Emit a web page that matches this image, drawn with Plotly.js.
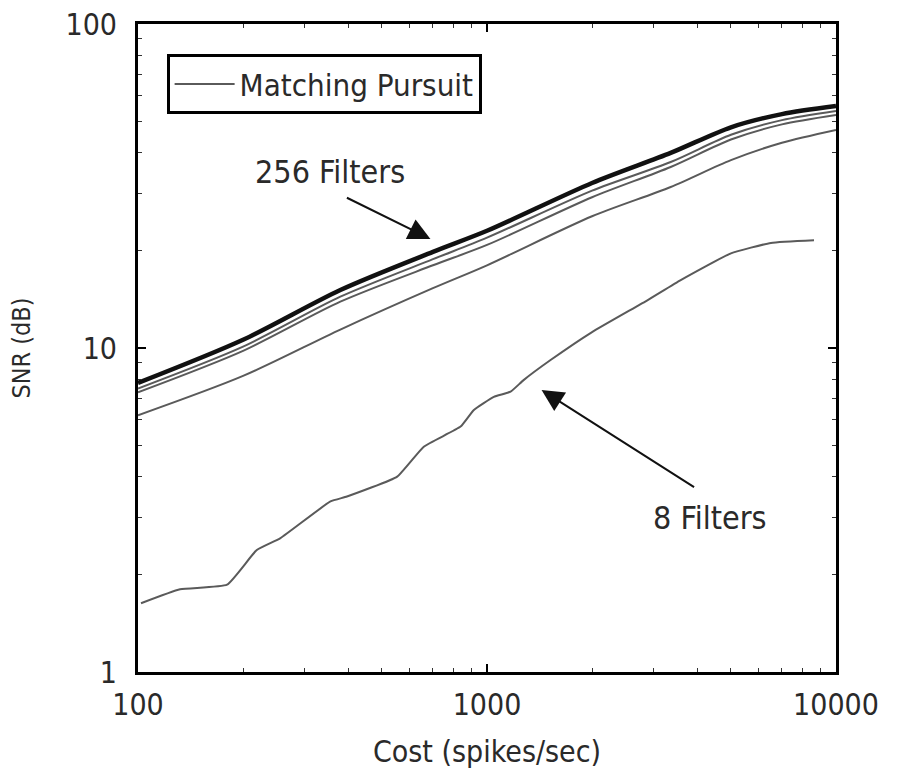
<!DOCTYPE html>
<html>
<head>
<meta charset="utf-8">
<script src="https://cdn.plot.ly/plotly-3.0.1.min.js"></script>
<style>html,body{margin:0;padding:0;background:#fff;}#chart{width:900px;height:773px;}</style>
</head>
<body>
<div id="chart"></div>
<script>
// Cost (spikes/sec) sample points for the smooth curves
const costSmooth = [100, 200, 380, 700, 1000, 2000, 3360, 5000, 7000, 10000];
// 256-filter curve (thick black) and neighbouring curves, SNR (dB)
const snr256 = [7.8, 10.6, 15.1, 19.8, 23.0, 32.3, 40.0, 48.0, 52.7, 55.8];
const snrB   = [7.5, 10.1, 14.4, 18.8, 21.9, 30.6, 37.5, 45.5, 50.5, 53.9];
const snrC   = [7.3, 9.8, 13.9, 18.0, 20.8, 29.2, 36.2, 44.0, 49.0, 52.4];
const snrD   = [6.2, 8.2, 11.4, 15.3, 18.0, 25.5, 31.4, 38.0, 43.0, 47.1];
// 8-filter curve
const cost8 = [102, 132, 180, 219, 256, 356, 397, 553, 659, 840, 917, 1046, 1168, 1273, 1521, 2000, 2888, 3590, 5000, 6510, 8650];
const snr8  = [1.63, 1.80, 1.86, 2.38, 2.59, 3.36, 3.48, 4.01, 4.96, 5.72, 6.44, 7.07, 7.33, 7.96, 9.18, 11.2, 14.06, 16.2, 19.6, 21.1, 21.5];

const xMajor = [100, 1000, 10000];
const xMajorText = ['100', '1000', '10000'];
const yMajor = [1, 10, 100];
const yMajorText = ['1', '10', '100'];

function minorVals(lo, hi) {
  const out = [];
  for (let d = lo; d < hi; d *= 10) for (let k = 2; k <= 9; k++) out.push(d * k);
  return out;
}

const FONT = 'DejaVu Sans Condensed, Liberation Sans Narrow, DejaVu Sans, sans-serif';
const GRAY = '#5a5a5a';
const TXT = '#2a2a2a';

const traces = [
  {x: costSmooth, y: snrD, mode: 'lines', line: {color: GRAY, width: 2, shape: 'spline', smoothing: 0.8}, showlegend: false},
  {x: costSmooth, y: snrC, mode: 'lines', line: {color: GRAY, width: 2, shape: 'spline', smoothing: 0.8}, showlegend: false},
  {x: costSmooth, y: snrB, mode: 'lines', line: {color: GRAY, width: 2, shape: 'spline', smoothing: 0.8}, name: 'Matching Pursuit', showlegend: true},
  {x: costSmooth, y: snr256, mode: 'lines', line: {color: '#111111', width: 4.5, shape: 'spline', smoothing: 0.8}, showlegend: false},
  {x: cost8, y: snr8, mode: 'lines', line: {color: GRAY, width: 2, shape: 'spline', smoothing: 0.4}, showlegend: false}
];

const axisCommon = {
  type: 'log',
  showgrid: false,
  zeroline: false,
  showline: true,
  linecolor: '#000',
  linewidth: 3,
  mirror: 'ticks',
  ticks: 'inside',
  ticklen: 8,
  tickwidth: 2,
  tickcolor: '#000',
  tickfont: {family: FONT, size: 30, color: TXT}
};

function px2data(px, py) {
  return {x: 2 + (px - 138) / 348.5, y: (672 - py) / 324};
}
const tip256 = px2data(430, 239);
const tip8 = px2data(541, 390);

const layout = {
  width: 900, height: 773,
  paper_bgcolor: '#fff', plot_bgcolor: '#fff',
  margin: {l: 138, r: 64, t: 24, b: 101},
  font: {family: FONT, color: TXT},
  xaxis: Object.assign({}, axisCommon, {
    range: [2, 4],
    tickmode: 'array', tickvals: xMajor, ticktext: xMajorText,
    ticklabelstandoff: 4,
    minor: {tickmode: 'array', tickvals: minorVals(100, 10000), ticks: 'inside', ticklen: 4, tickwidth: 1, tickcolor: '#333'},
    title: {text: 'Cost (spikes/sec)', font: {family: FONT, size: 30, color: TXT}, standoff: 20}
  }),
  yaxis: Object.assign({}, axisCommon, {
    range: [0, 2],
    tickmode: 'array', tickvals: yMajor, ticktext: yMajorText,
    ticklabelstandoff: 12,
    minor: {tickmode: 'array', tickvals: minorVals(1, 100), ticks: 'inside', ticklen: 4, tickwidth: 1, tickcolor: '#333'},
    title: {text: 'SNR (dB)', font: {family: FONT, size: 25, color: TXT}, standoff: 28}
  }),
  legend: {
    x: 0.041, y: 0.953, xanchor: 'left', yanchor: 'top',
    bgcolor: '#fff', bordercolor: '#000', borderwidth: 3,
    font: {family: FONT, size: 31, color: TXT},
    itemwidth: 60
  },
  annotations: [
    {x: tip256.x, y: tip256.y, xref: 'x', yref: 'y', ax: -85, ay: -42,
     showarrow: true, arrowhead: 2, arrowsize: 2.2, arrowwidth: 2, arrowcolor: '#111', text: ''},
    {x: tip8.x, y: tip8.y, xref: 'x', yref: 'y', ax: 154, ay: 98,
     showarrow: true, arrowhead: 2, arrowsize: 2.2, arrowwidth: 2, arrowcolor: '#111', text: ''},
    {xref: 'paper', yref: 'paper', x: (330 - 138) / 698, y: (672 - 172) / 648, xanchor: 'center', yanchor: 'middle',
     text: '256 Filters', showarrow: false, font: {family: FONT, size: 32, color: TXT}},
    {xref: 'paper', yref: 'paper', x: (710 - 138) / 698, y: (672 - 518) / 648, xanchor: 'center', yanchor: 'middle',
     text: '8 Filters', showarrow: false, font: {family: FONT, size: 32, color: TXT}}
  ]
};

Plotly.newPlot('chart', traces, layout, {displayModeBar: false, staticPlot: true});
</script>
</body>
</html>
